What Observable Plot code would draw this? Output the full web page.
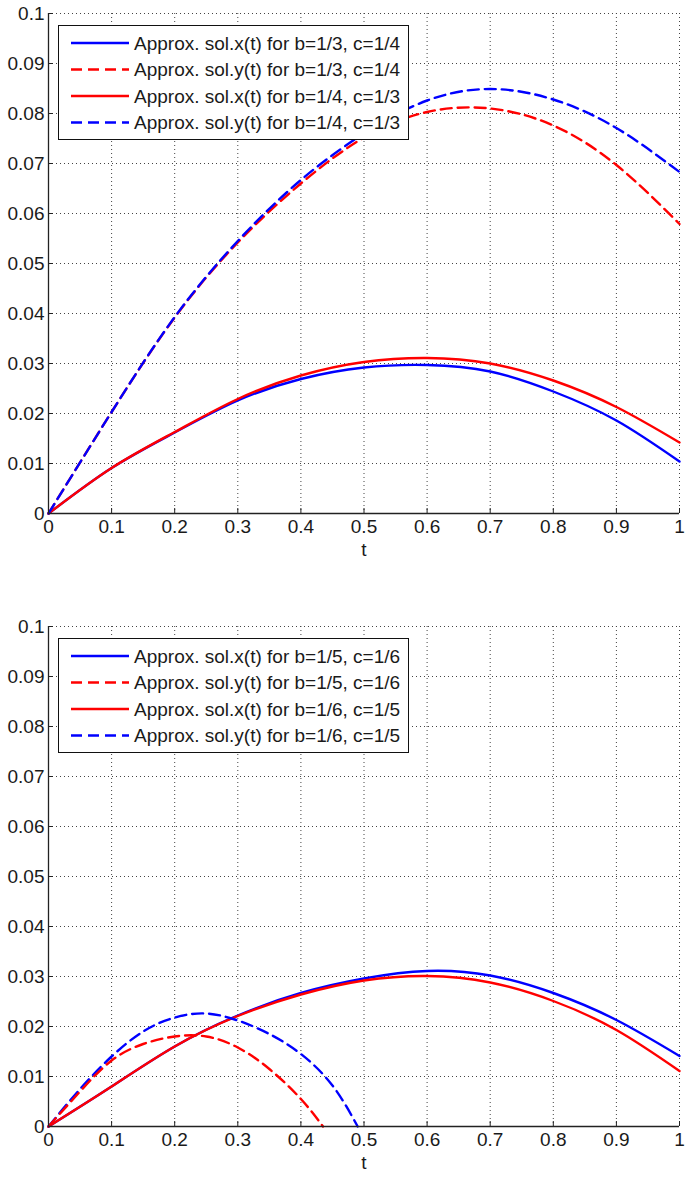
<!DOCTYPE html>
<html>
<head>
<meta charset="utf-8">
<script src="https://cdn.jsdelivr.net/npm/d3@7"></script>
<script src="https://cdn.jsdelivr.net/npm/@observablehq/plot@0.6"></script>
<style>
  body { margin: 0; background: #fff; font-family: "Liberation Sans", Arial, sans-serif; }
  #wrap { position: relative; width: 685px; height: 1179px; background: #fff; }
  .panel { position: absolute; left: 0; }
  .legend { position: absolute; left: 58px; width: 349px; height: 113px; border: 1.5px solid #111; background: #fff; }
</style>
</head>
<body>
<div id="wrap"></div>
<script>
// ---- tick values and labels ----
const xTicks = [0, 0.1, 0.2, 0.3, 0.4, 0.5, 0.6, 0.7, 0.8, 0.9, 1];
const xTickLabels = ["0", "0.1", "0.2", "0.3", "0.4", "0.5", "0.6", "0.7", "0.8", "0.9", "1"];
const yTicks = [0, 0.01, 0.02, 0.03, 0.04, 0.05, 0.06, 0.07, 0.08, 0.09, 0.1];
const yTickLabels = ["0", "0.01", "0.02", "0.03", "0.04", "0.05", "0.06", "0.07", "0.08", "0.09", "0.1"];
const xAxisTitle = "t";

// ---- top panel: b=1/3,c=1/4 and b=1/4,c=1/3 ----
const tTop = [0, 0.1, 0.2, 0.3, 0.4, 0.5, 0.6, 0.7, 0.8, 0.9, 1];
const topX_b13 = [0, 0.0091, 0.0162, 0.0226, 0.0269, 0.0292, 0.0297, 0.0284, 0.0244, 0.0186, 0.0104];
const topY_b13 = [0, 0.0203, 0.0392, 0.0542, 0.0660, 0.0752, 0.0803, 0.0810, 0.0776, 0.0697, 0.0579];
const topX_b14 = [0, 0.0091, 0.0163, 0.0229, 0.0276, 0.0303, 0.0311, 0.0300, 0.0266, 0.0213, 0.0142];
const topY_b14 = [0, 0.0203, 0.0393, 0.0545, 0.0667, 0.0760, 0.0826, 0.0849, 0.0828, 0.0771, 0.0683];
const topLabels = [
  "Approx. sol.x(t) for b=1/3, c=1/4",
  "Approx. sol.y(t) for b=1/3, c=1/4",
  "Approx. sol.x(t) for b=1/4, c=1/3",
  "Approx. sol.y(t) for b=1/4, c=1/3"
];

// ---- bottom panel: b=1/5,c=1/6 and b=1/6,c=1/5 ----
const tBot = [0, 0.1, 0.2, 0.3, 0.4, 0.5, 0.6, 0.7, 0.8, 0.9, 1];
const botX_b15 = [0, 0.0080, 0.0160, 0.0222, 0.0267, 0.0296, 0.0311, 0.0302, 0.0267, 0.0213, 0.0141];
const botX_b16 = [0, 0.0080, 0.0160, 0.0221, 0.0264, 0.0292, 0.0301, 0.0288, 0.0251, 0.0193, 0.0111];
const tBotY_b15 = [0, 0.05, 0.1, 0.15, 0.2, 0.25, 0.3, 0.35, 0.4, 0.435];
const botY_b15 = [0, 0.0070, 0.0132, 0.0165, 0.0180, 0.0180, 0.0158, 0.0115, 0.0055, 0];
const tBotY_b16 = [0, 0.05, 0.1, 0.15, 0.2, 0.25, 0.3, 0.35, 0.4, 0.45, 0.49];
const botY_b16 = [0, 0.0075, 0.0140, 0.0190, 0.0218, 0.0226, 0.0212, 0.0185, 0.0145, 0.0082, 0];
const botLabels = [
  "Approx. sol.x(t) for b=1/5, c=1/6",
  "Approx. sol.y(t) for b=1/5, c=1/6",
  "Approx. sol.x(t) for b=1/6, c=1/5",
  "Approx. sol.y(t) for b=1/6, c=1/5"
];

const BLUE = "#0000ff", RED = "#ff0000";
const DASH = "11,6";
const FONT = "'Liberation Sans', Arial, sans-serif";

const xLabelMap = new Map(xTicks.map((d, i) => [d, xTickLabels[i]]));
const yLabelMap = new Map(yTicks.map((d, i) => [d, yTickLabels[i]]));

function toRows(ts, vs) { return ts.map((t, i) => ({t, v: vs[i]})); }

function panel(series) {
  const lineMarks = series.map(s => Plot.line(toRows(s.t, s.v), {
    x: "t", y: "v", stroke: s.color, strokeWidth: 2.4,
    strokeDasharray: s.dash ? DASH : null, curve: "natural"
  }));
  return Plot.plot({
    width: 685, height: 560,
    marginTop: 13, marginLeft: 48, marginRight: 6, marginBottom: 47,
    style: { fontFamily: FONT, fontSize: "19px", color: "#1a1a1a", background: "#fff", overflow: "visible" },
    x: { domain: [0, 1] },
    y: { domain: [0, 0.1] },
    marks: [
      Plot.gridX(xTicks, { stroke: "#444", strokeOpacity: 1, strokeWidth: 1, strokeDasharray: "1,3" }),
      Plot.gridY(yTicks, { stroke: "#444", strokeOpacity: 1, strokeWidth: 1, strokeDasharray: "1,3" }),
      ...lineMarks,
      Plot.ruleX([0], { stroke: "#222", strokeWidth: 1.3 }),
      Plot.ruleY([0], { stroke: "#222", strokeWidth: 1.3 }),
      Plot.axisX(xTicks, { tickSize: -5, tickPadding: 11, tickFormat: d => xLabelMap.get(d), label: null, stroke: "#222" }),
      Plot.axisY(yTicks, { tickSize: -5, tickPadding: 9, tickFormat: d => yLabelMap.get(d), label: null, stroke: "#222" }),
      Plot.text([xAxisTitle], { text: d => d, frameAnchor: "bottom", dy: 42, fontSize: 19, fill: "#1a1a1a" })
    ]
  });
}

function legend(top, labels, styles) {
  const div = document.createElement("div");
  div.className = "legend";
  div.style.top = top + "px";
  const svg = d3.select(div).append("svg").attr("width", 349).attr("height", 113)
    .style("font-family", FONT).style("font-size", "19px");
  labels.forEach((lab, i) => {
    const y = 17 + i * 26.5;
    svg.append("line").attr("x1", 12).attr("x2", 70).attr("y1", y).attr("y2", y)
      .attr("stroke", styles[i].color).attr("stroke-width", 2.4)
      .attr("stroke-dasharray", styles[i].dash ? DASH : null);
    svg.append("text").attr("x", 75).attr("y", y).attr("dy", "0.35em")
      .attr("fill", "#1a1a1a").text(lab);
  });
  return div;
}

const wrap = document.getElementById("wrap");

const topStyles = [
  {color: BLUE, dash: false}, {color: RED, dash: true},
  {color: RED, dash: false}, {color: BLUE, dash: true}
];
const botStyles = topStyles;

const p1 = panel([
  {t: tTop, v: topX_b13, color: BLUE, dash: false},
  {t: tTop, v: topX_b14, color: RED, dash: false},
  {t: tTop, v: topY_b13, color: RED, dash: true},
  {t: tTop, v: topY_b14, color: BLUE, dash: true}
]);
p1.classList.add("panel"); p1.style.top = "0px";
wrap.appendChild(p1);
wrap.appendChild(legend(25, topLabels, topStyles));

const p2 = panel([
  {t: tBot, v: botX_b15, color: BLUE, dash: false},
  {t: tBot, v: botX_b16, color: RED, dash: false},
  {t: tBotY_b16, v: botY_b16, color: BLUE, dash: true},
  {t: tBotY_b15, v: botY_b15, color: RED, dash: true}
]);
p2.classList.add("panel"); p2.style.top = "613px";
wrap.appendChild(p2);
wrap.appendChild(legend(638, botLabels, botStyles));
</script>
</body>
</html>
